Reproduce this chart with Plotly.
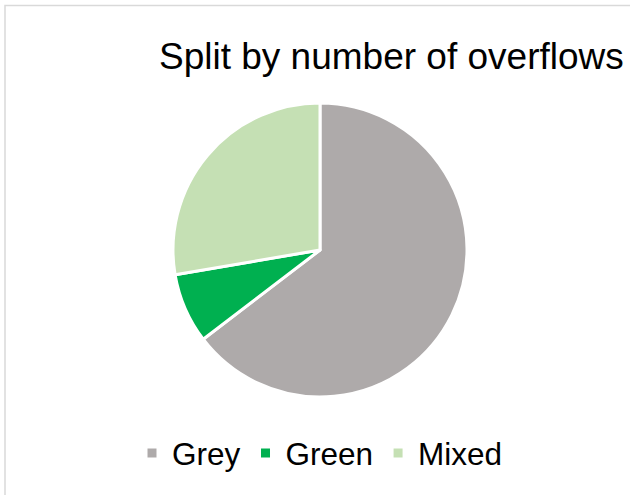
import plotly.graph_objects as go

W, H = 630, 495

labels = ["Grey", "Green", "Mixed"]
values = [84, 10, 36]
colors = ["#AEAAAA", "#00B050", "#C5E0B4"]
title_text = "Split by number of overflows"

cx, cy, r = 320, 250, 147

fig = go.Figure(go.Pie(
    labels=labels,
    values=values,
    sort=False,
    direction="clockwise",
    rotation=0,
    marker=dict(colors=colors, line=dict(color="white", width=3)),
    textinfo="none",
    hoverinfo="label+value+percent",
    domain=dict(x=[(cx - r) / W, (cx + r) / W], y=[1 - (cy + r) / H, 1 - (cy - r) / H]),
))

fig.update_layout(
    width=W, height=H,
    margin=dict(l=0, r=0, t=0, b=0),
    paper_bgcolor="white",
    plot_bgcolor="white",
    font=dict(family="Liberation Sans, Arial, sans-serif", color="#000000"),
    showlegend=True,
    legend=dict(
        orientation="h",
        x=(152 - 20) / W, xanchor="left",
        y=1 - 453 / H, yanchor="middle",
        font=dict(size=31.5, color="#000000"),
        bgcolor="rgba(0,0,0,0)",
    ),
    annotations=[dict(
        text=title_text,
        xref="paper", yref="paper",
        x=391 / W, y=1 - 56 / H,
        xanchor="center", yanchor="middle",
        showarrow=False,
        font=dict(size=37, color="#000000"),
    )],
    shapes=[dict(
        type="rect", xref="paper", yref="paper",
        x0=5 / W, x1=1.05, y0=-0.05, y1=1 - 5.5 / H,
        line=dict(color="#D9D9D9", width=1.5),
        fillcolor="rgba(0,0,0,0)",
        layer="below",
    )],
)

fig.write_html("out.html")
